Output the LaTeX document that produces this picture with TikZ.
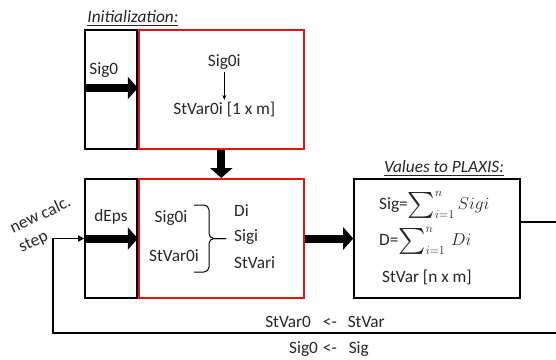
\documentclass[tikz,border=0pt]{standalone}
\usepackage{amsmath}
\usepackage{fontspec}
\setmainfont{Carlito}
\usetikzlibrary{arrows.meta,positioning}
\definecolor{calcred}{RGB}{225,20,20}
\newcommand{\bigsum}{\mathop{\vcenter{\hbox{\scalebox{1.5}{$\sum$}}}}\nolimits}

\begin{document}
\begin{tikzpicture}[
    x=1pt, y=-1pt,
    every node/.style={font=\fontsize{17.28}{21}\selectfont, inner sep=2pt,
      text=black!85},
    inbox/.style={draw, line width=1.6pt, inner sep=0pt,
      minimum width=52pt, minimum height=119pt},
    calcbox/.style={draw=calcred, line width=2pt, inner sep=0pt,
      minimum width=165pt, minimum height=119pt},
    outbox/.style={draw, line width=1.6pt, inner sep=0pt,
      minimum width=166pt, minimum height=119pt},
    heading/.style={font=\fontsize{17.28}{21}\selectfont\itshape},
    fat/.style={line width=8pt, -{Triangle[length=10pt,width=22pt]}},
    thin/.style={line width=1.5pt, -{Triangle[length=6pt,width=6pt]}},
    tiny/.style={line width=1pt, -{Stealth[length=5pt,width=4pt]}}
  ]
    \useasboundingbox (0,0) rectangle (556,359);

    % initialization
    \node[inbox] (initin) at (111,89.5) {};
    \node[calcbox, right=0pt of initin] (initcalc) {};
    \node[heading, anchor=south west] (initlabel)
      at ([xshift=1pt,yshift=1pt]initin.north west)
      {\underline{Initialization:}};
    \node[anchor=west] (sig0) at ([xshift=3pt,yshift=19pt]initin.west) {Sig0};
    \node (initsig) at ([xshift=3pt,yshift=27pt]initcalc.center) {Sig0i};
    \node (initstvar) at ([xshift=3pt,yshift=-20pt]initcalc.center)
      {StVar0i [1 x m]};
    \draw[fat] ([xshift=2pt,yshift=1.5pt]initin.west)
      -- ([yshift=1.5pt]initcalc.west);
    \draw[tiny] (initsig) -- (initstvar);

    % calculation step
    \node[inbox] (stepin) at (111,238.5) {};
    \node[calcbox, right=0pt of stepin] (stepcalc) {};
    \node (deps) at ([yshift=22pt]stepin.center) {dEps};
    \node (stepsig) at (171,218) {Sig0i};
    \node (stepstvar) at (174,256) {StVar0i};
    \draw[line width=1pt, rounded corners=5pt]
      (194,205) -- (209,205) -- (209,238.5) -- (226,238.5);
    \draw[line width=1pt, rounded corners=5pt]
      (194,272) -- (209,272) -- (209,238.5) -- (226,238.5);
    \node[anchor=west] (di) at (232,211) {Di};
    \node[anchor=west] (sigi) at (232,237) {Sigi};
    \node[anchor=west] (stvari) at (232,263) {StVari};
    \draw[fat] ([xshift=2pt]stepin.west) -- (stepcalc.west);
    \draw[fat] (initcalc.south) -- (initcalc.south |- stepcalc.north);

    % output
    \node[outbox] (plaxis) at (437,238.5) {};
    \node[heading, above=0pt of plaxis.north, xshift=7pt] (plaxislabel)
      {\underline{Values to PLAXIS:}};
    \node[anchor=west] (sumsig) at (377,205)
      {Sig=$\bigsum_{i=1}^{n} Sigi$};
    \node[anchor=west] (sumd) at (377,241)
      {D=$\bigsum_{i=1}^{n}\, Di$};
    \node[anchor=west] (stvar) at (380,277) {StVar [n x m]};
    \draw[fat] (stepcalc.east) -- (plaxis.west);

    % back to next step
    \coordinate (outtap) at ([yshift=16.5pt]plaxis.east);
    \coordinate (loopright) at (557,333);
    \coordinate (loopleft) at (53,333);
    \draw[thin] (outtap) -| (loopright) -- (loopleft) |- (stepin.west);
    \node (backstvar) at (325,322) {StVar0\hspace{12pt}<-\hspace{11pt}StVar};
    \node (backsig) at (329,349) {Sig0\hspace{5pt}<-\hspace{12pt}Sig};
    \node[rotate=25, align=left] (newstep) at (45,225) {new calc.\\step};
  \end{tikzpicture}
\end{document}
